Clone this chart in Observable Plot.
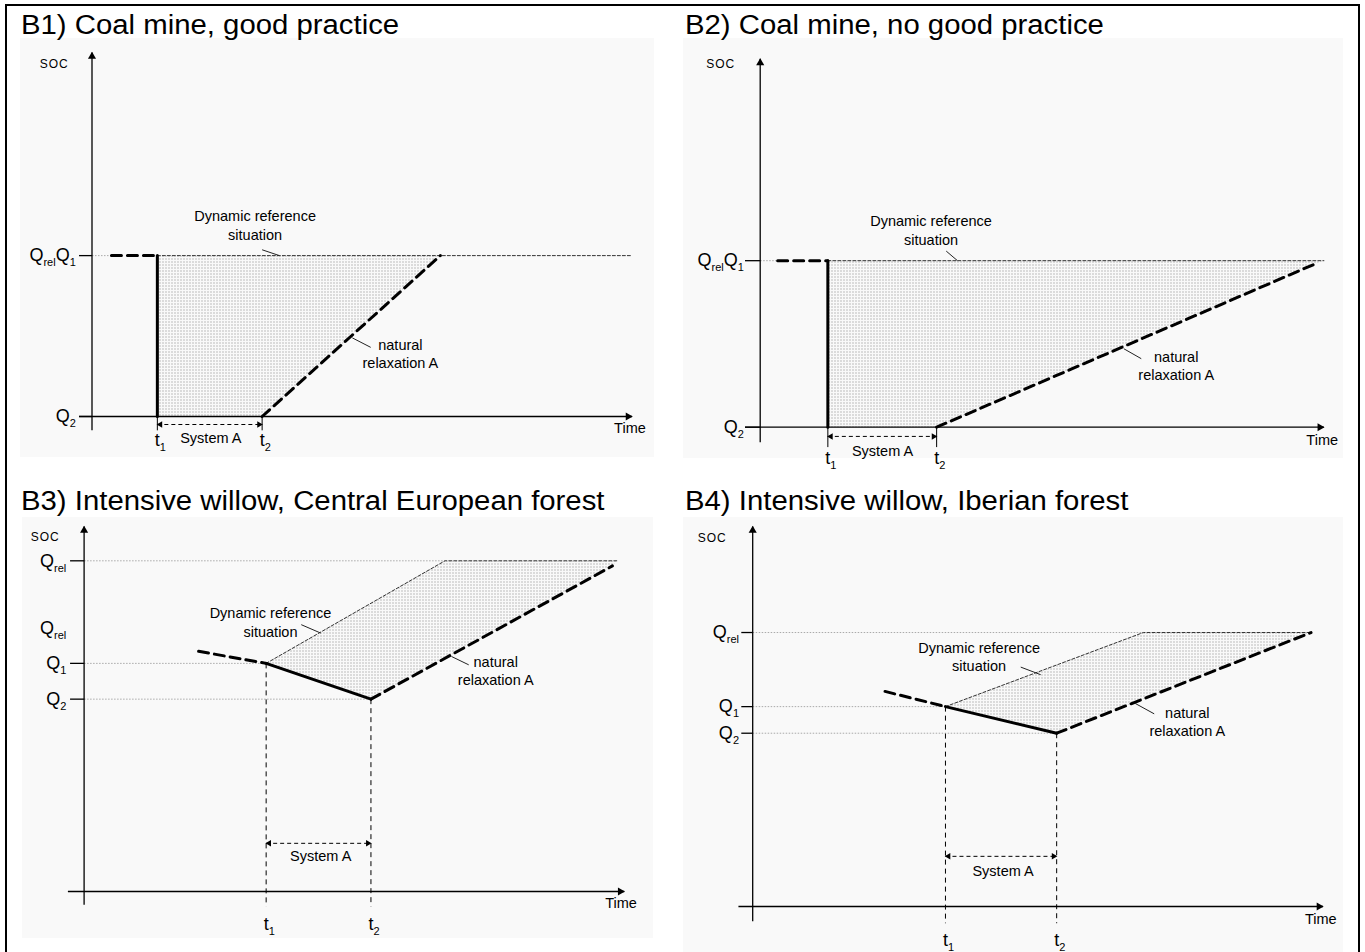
<!DOCTYPE html>
<html>
<head>
<meta charset="utf-8">
<script src="https://cdn.jsdelivr.net/npm/d3@7"></script>
<script src="https://cdn.jsdelivr.net/npm/@observablehq/plot@0.6"></script>
<style>
html, body { margin: 0; padding: 0; background: #fff; overflow: hidden; }
#page { position: relative; width: 1365px; height: 952px; overflow: hidden; }
#frame { position: absolute; left: 5px; top: 4px; width: 1355px; height: 980px; box-sizing: border-box; border: 2px solid #000; z-index: 3; pointer-events: none; }
.title { position: absolute; z-index: 2; font-family: "Liberation Sans", Arial, sans-serif; font-size: 27px; line-height: 32px; white-space: nowrap; transform-origin: 0 0; transform: scaleX(1.086); color: #000; }
.panel { position: absolute; z-index: 1; }
</style>
</head>
<body>
<svg width="0" height="0" style="position:absolute">
  <defs>
    <pattern id="dots" width="3" height="3" patternUnits="userSpaceOnUse">
      <rect x="1" y="1" width="1" height="1" fill="#808080"></rect>
    </pattern>
  </defs>
</svg>
<div id="page"><div id="frame"></div></div>
<script>
// ---------------- data (axis units: time 0–10, SOC 0–10) ----------------
const panelTitles = [
  "B1) Coal mine, good practice",
  "B2) Coal mine, no good practice",
  "B3) Intensive willow, Central European forest",
  "B4) Intensive willow, Iberian forest"
];
const abruptDrop   = [true, true, false, false];
const t1           = [1.21, 1.20, 3.37, 3.38];
const t2           = [3.15, 3.13, 5.31, 5.33];
const preStartT    = [0.36, 0.31, 2.12, 2.32];
const refKinkT     = [1.21, 1.20, 6.68, 6.85];
const refEndT      = [10.0, 10.0, 9.86, 9.79];
const relaxEndT    = [6.45, 9.87, 9.78, 9.79];
const socQ1        = [4.42, 4.52, 6.25, 5.26];
const socQ2        = [0, 0, 5.27, 4.56];
const socQrel      = [4.42, 4.52, 9.06, 7.21];
const preStartSOC  = [4.42, 4.52, 6.58, 5.66];
const relaxEndSOC  = [4.42, 4.45, 8.92, 7.21];
// y tick labels: [label, value, has tick]   ("|" toggles subscript)
const yTickLabels = [
  [["Q|rel|Q|1", 4.42, true], ["Q|2", 0, true]],
  [["Q|rel|Q|1", 4.52, true], ["Q|2", 0, true]],
  [["Q|rel", 9.06, true], ["Q|rel", 7.21, false], ["Q|1", 6.25, true], ["Q|2", 5.27, true]],
  [["Q|rel", 7.21, true], ["Q|1", 5.26, true], ["Q|2", 4.56, true]]
];
const xTickLabels = ["t|1", "t|2"];
const axisTitles = ["SOC", "Time"];
const annotationTexts = ["Dynamic reference\nsituation", "natural\nrelaxation A", "System A"];

// ---------------- layout (page pixels) ----------------
const layout = [
  {title: [21, 9],   box: [20, 38, 634, 419],  ox: 91.5,  oy: 416,   tipX: 631.6,  tipY: 52},
  {title: [685, 9],  box: [683, 38, 660, 420], ox: 759.7, oy: 426.7, tipX: 1323.4, tipY: 58.3},
  {title: [21, 485], box: [22, 517, 631, 421], ox: 83.6,  oy: 891,   tipX: 623.8,  tipY: 526},
  {title: [685, 485],box: [683, 517, 660, 435],ox: 752.2, oy: 906,   tipX: 1322.5, tipY: 526}
];
// annotation anchors (axis units)
const annot = [
  {soc: [-0.70, 9.69], time: [9.96, -0.32], dyn: [3.02, 5.27], dynL: [3.15, 4.58, 3.47, 4.42],
   nat: [5.71, 1.74], natL: [4.82, 2.16, 5.16, 1.90], sysY: -0.22, sysT: [2.20, -0.61],
   tY: -0.66, qEnd: -0.30, tickStart: -0.24, xStart: -0.24, yBottom: -0.38, tBottom: -0.38},
  {soc: [-0.70, 9.86], time: [9.97, -0.36], dyn: [3.03, 5.36], dynL: [3.30, 4.78, 3.50, 4.52],
   nat: [7.38, 1.68], natL: [6.45, 2.13, 6.76, 1.86], sysY: -0.25, sysT: [2.17, -0.65],
   tY: -0.83, qEnd: -0.29, tickStart: -0.27, xStart: -0.27, yBottom: -0.41, tBottom: -0.54},
  {soc: [-0.72, 9.70], time: [9.94, -0.32], dyn: [3.45, 7.39], dynL: [4.02, 7.31, 4.38, 7.08],
   nat: [7.62, 6.06], natL: [6.80, 6.44, 7.12, 6.21], sysY: 1.32, sysT: [4.38, 0.96],
   tY: -0.91, qEnd: -0.33, tickStart: -0.26, xStart: -0.30, yBottom: -0.36, tBottom: -0.41},
  {soc: [-0.71, 9.69], time: [9.96, -0.35], dyn: [3.97, 6.59], dynL: [4.70, 6.30, 5.05, 6.10],
   nat: [7.62, 4.88], natL: [6.70, 5.35, 7.04, 5.07], sysY: 1.32, sysT: [4.39, 0.92],
   tY: -0.88, qEnd: -0.24, tickStart: -0.20, xStart: -0.25, yBottom: -0.39, tBottom: -0.44}
];

const FONT = "'Liberation Sans', Arial, Helvetica, sans-serif";
const page = document.getElementById("page");

function postProcess(svg) {
  d3.select(svg).selectAll("text").each(function () {
    const txt = this.textContent;
    if (txt === "SOC") { this.setAttribute("letter-spacing", "1"); return; }
    if (txt.indexOf("|") < 0) return;
    const parts = txt.split("|");
    while (this.firstChild) this.removeChild(this.firstChild);
    parts.forEach((p, k) => {
      const ts = document.createElementNS("http://www.w3.org/2000/svg", "tspan");
      ts.textContent = p;
      if (k % 2 === 1) { ts.setAttribute("font-size", "11"); ts.setAttribute("dy", "5"); }
      else if (k > 0) { ts.setAttribute("dy", "-5"); }
      this.appendChild(ts);
    });
  });
}

for (let i = 0; i < 4; i++) {
  const L = layout[i], A = annot[i];
  const [bx, by, bw, bh] = L.box;

  const P = (x, y) => ({x, y});
  const abrupt = abruptDrop[i];
  const refPath = [P(t1[i], socQ1[i]), P(refKinkT[i], socQrel[i]), P(refEndT[i], socQrel[i])];
  const relaxPath = [P(t2[i], socQ2[i]), P(relaxEndT[i], relaxEndSOC[i])];
  const prePath = [P(preStartT[i], preStartSOC[i]), P(t1[i], socQ1[i])];
  const sysPath = abrupt ? [P(t1[i], socQ1[i]), P(t1[i], socQ2[i])] : [P(t1[i], socQ1[i]), P(t2[i], socQ2[i])];
  const poly = [...refPath, relaxPath[1], relaxPath[0]].concat(abrupt ? [P(t1[i], socQ2[i])] : []);

  const seg = (x1, y1, x2, y2) => ({x1, y1, x2, y2});
  const grid = abrupt
    ? [seg(0, socQ1[i], preStartT[i], socQ1[i])]
    : [seg(0, socQrel[i], refKinkT[i], socQrel[i]), seg(0, socQ1[i], t1[i], socQ1[i]), seg(0, socQ2[i], t2[i], socQ2[i])];
  const axes = [seg(A.xStart, 0, 10, 0), seg(0, A.yBottom, 0, 10)];
  const yt = yTickLabels[i];
  const yticks = yt.filter(d => d[2]).map(d => seg(A.tickStart, d[1], 0, d[1]));
  const tLines = abrupt
    ? [seg(t1[i], 0, t1[i], A.tBottom), seg(t2[i], 0, t2[i], A.tBottom)]
    : [seg(t1[i], socQ1[i], t1[i], A.tBottom), seg(t2[i], socQ2[i], t2[i], A.tBottom)];
  const leaders = [seg(...A.dynL), seg(...A.natL)];
  const link = (data, o) => Plot.link(data, {x1: "x1", y1: "y1", x2: "x2", y2: "y2", ...o});
  const line = (data, o) => Plot.line(data, {x: "x", y: "y", ...o});

  const svg = Plot.plot({
    width: bw, height: bh,
    marginTop: 0, marginRight: 0, marginBottom: 0, marginLeft: 0,
    x: {domain: [0, 10], range: [L.ox - bx, L.tipX - bx], axis: null},
    y: {domain: [0, 10], range: [L.oy - by, L.tipY - by], axis: null},
    style: {fontFamily: FONT, fontSize: "14.5px", background: "#f9f9f9", overflow: "visible", color: "#000"},
    marks: [
      line(poly, {fill: "url(#dots)", stroke: "none"}),
      link(grid, {stroke: "#aaa", strokeWidth: 1, strokeDasharray: "1.5,1.5"}),
      line(refPath, {stroke: "#333", strokeWidth: 1, strokeDasharray: "3,2"}),
      link(tLines, {stroke: "#000", strokeWidth: 1, strokeDasharray: abrupt ? null : "5,4"}),
      link(axes, {stroke: "#000", strokeWidth: 1.3}),
      Plot.dot([P(10, 0)], {x: "x", y: "y", symbol: "triangle", r: 3, fill: "#000", stroke: "none", rotate: 90, dx: -4}),
      Plot.dot([P(0, 10)], {x: "x", y: "y", symbol: "triangle", r: 3, fill: "#000", stroke: "none", rotate: 0, dy: 4}),
      link(yticks, {stroke: "#000", strokeWidth: 1.3}),
      line(prePath, {stroke: "#000", strokeWidth: 3, strokeDasharray: "10,6"}),
      line(relaxPath, {stroke: "#000", strokeWidth: 3, strokeDasharray: "10,6"}),
      line(sysPath, {stroke: "#000", strokeWidth: 3}),
      link([seg(t1[i], A.sysY, t2[i], A.sysY)], {stroke: "#000", strokeWidth: 1, strokeDasharray: "4,3"}),
      Plot.dot([P(t1[i], A.sysY)], {x: "x", y: "y", symbol: "triangle", r: 2.4, fill: "#000", stroke: "none", rotate: -90, dx: 3}),
      Plot.dot([P(t2[i], A.sysY)], {x: "x", y: "y", symbol: "triangle", r: 2.4, fill: "#000", stroke: "none", rotate: 90, dx: -3}),
      link(leaders, {stroke: "#222", strokeWidth: 1}),
      Plot.text([annotationTexts[0]], {x: A.dyn[0], y: A.dyn[1], text: d => d, textAnchor: "middle", lineHeight: 1.27, fontSize: 14.5}),
      Plot.text([annotationTexts[1]], {x: A.nat[0], y: A.nat[1], text: d => d, textAnchor: "middle", lineHeight: 1.27, fontSize: 14.5}),
      Plot.text([annotationTexts[2]], {x: A.sysT[0], y: A.sysT[1], text: d => d, textAnchor: "middle", fontSize: 14.5}),
      Plot.text([axisTitles[0]], {x: A.soc[0], y: A.soc[1], text: d => d, textAnchor: "middle", fontSize: 12}),
      Plot.text([axisTitles[1]], {x: A.time[0], y: A.time[1], text: d => d, textAnchor: "middle", fontSize: 14.5}),
      Plot.text(yt, {x: A.qEnd, y: d => d[1], text: d => d[0], textAnchor: "end", fontSize: 18}),
      Plot.text([[xTickLabels[0], t1[i]], [xTickLabels[1], t2[i]]], {x: d => d[1], y: A.tY, text: d => d[0], textAnchor: "start", dx: -2.5, fontSize: 18})
    ]
  });
  postProcess(svg);
  const wrap = document.createElement("div");
  wrap.className = "panel";
  wrap.style.left = bx + "px";
  wrap.style.top = by + "px";
  wrap.appendChild(svg);
  page.appendChild(wrap);

  const title = document.createElement("div");
  title.className = "title";
  title.textContent = panelTitles[i];
  title.style.left = L.title[0] + "px";
  title.style.top = L.title[1] + "px";
  page.appendChild(title);
}
</script>
</body>
</html>
